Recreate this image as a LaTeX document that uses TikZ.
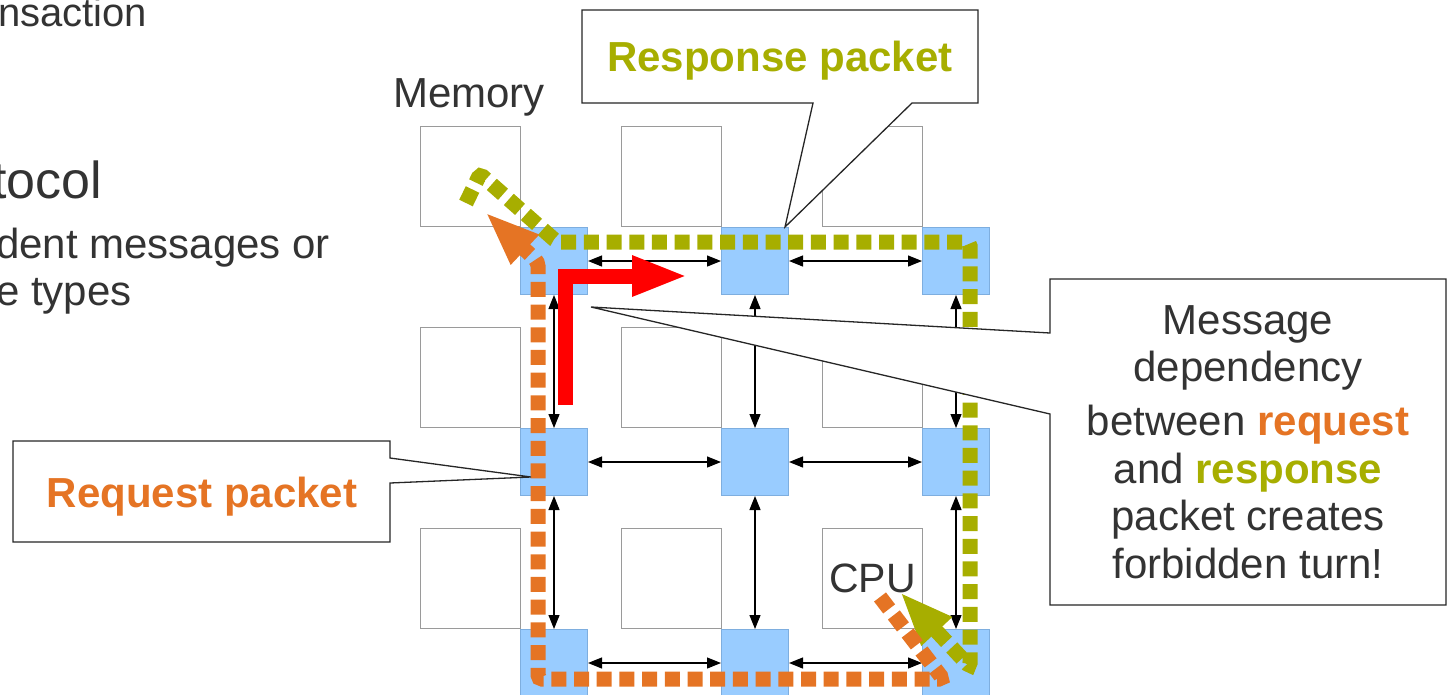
\documentclass[tikz,border=0pt]{standalone}
\usepackage{fontspec}
\setmainfont{Liberation Sans}
\usetikzlibrary{arrows.meta}

\definecolor{txt}{HTML}{333333}
\definecolor{reqc}{HTML}{E57424}
\definecolor{resc}{HTML}{A7AE00}
\definecolor{routerfill}{HTML}{99CCFF}
\definecolor{routerline}{HTML}{7EAEDF}
\definecolor{termline}{HTML}{9A9A9A}

\begin{document}
\begin{tikzpicture}[x=1pt,y=-1pt,
  terminal/.style={draw=termline, line width=1.3pt, fill=white,
    minimum size=100pt, inner sep=0pt, anchor=north west},
  router/.style={draw=routerline, line width=1pt, fill=routerfill,
    minimum size=67pt, inner sep=0pt, anchor=north west},
  link/.style={{Triangle[length=14pt,width=11pt]}-{Triangle[length=14pt,width=11pt]},
    line width=1.2pt, black},
  lbl/.style={inner sep=0pt, text=txt, font=\fontsize{42}{50}\selectfont},
  bullet/.style={inner sep=0pt, text=txt, anchor=base west, font=\fontsize{42}{50}\selectfont},
  calloutline/.style={draw=black!85, line width=1.3pt, fill=white},
  dotpath/.style={line width=15pt, dash pattern=on 15pt off 7.7pt, rounded corners=4pt},
  reqtext/.style={text=reqc, font=\fontsize{42}{50}\selectfont\bfseries},
  restext/.style={text=resc, font=\fontsize{42}{50}\selectfont\bfseries}]

\useasboundingbox (0,0) rectangle (1447,694);

% slide text cut at the left edge
\node[bullet, font=\fontsize{40}{48}\selectfont] (tline) at (-2,26) {nsaction};
\node[bullet, font=\fontsize{52}{60}\selectfont] (pline) at (-8,198) {tocol};
\node[bullet] (dline) at (-4,258) {dent messages or};
\node[bullet] (eline) at (-4,305) {e types};

% 3x3 mesh: terminals and routers
\foreach \r in {1,2,3} {
  \foreach \c in {1,2,3} {
    \node[terminal] (t\r\c) at ({420+201*(\c-1)},{126+201*(\r-1)}) {};
    \node[router]   (r\r\c) at ({520+201*(\c-1)},{227+201*(\r-1)}) {};
  }
}

% bidirectional links
\foreach \r in {1,2,3} {
  \draw[link] (r\r1) -- (r\r2);
  \draw[link] (r\r2) -- (r\r3);
}
\foreach \c in {1,2,3} {
  \draw[link] (r1\c) -- (r2\c);
  \draw[link] (r2\c) -- (r3\c);
}

% endpoint labels
\node[lbl, anchor=base] (memlabel) at (469,107) {Memory};
\node[lbl, font=\fontsize{41}{48}\selectfont] (cpulabel) at (t33.center) {CPU};

% response path: memory -> CPU
\draw[dotpath, resc, -{Triangle[length=54pt,width=38pt]}]
  (466,203) -- (480,174) -- (557,242) -- (970,242) -- (970,667) -- (900,592);

% request path: CPU -> memory
\draw[dotpath, reqc, -{Triangle[length=55pt,width=37pt]}]
  (880,597) -- (943,679) -- (538,679) -- (538,262) -- (485,212);

% forbidden turn
\draw[red, line width=15pt, -{Triangle[length=56pt,width=37pt]}]
  (565,405) -- (565,276) -- (688,276);

% callouts
\coordinate (resptip) at (785,227);
\coordinate (reqtip) at (531,477);
\coordinate (msgtip) at (591,307);

\draw[calloutline] (582,10) -- (978,10) -- (978,103) -- (912,103) -- (resptip)
  -- (813,103) -- (582,103) -- cycle;
\node[inner sep=0pt, restext, anchor=base] (resplabel) at (780,71) {Response packet};

\draw[calloutline] (13,441) -- (390,441) -- (390,458) -- (reqtip) -- (390,483)
  -- (390,542) -- (13,542) -- cycle;
\node[inner sep=0pt, reqtext, anchor=base] (reqlabel) at (202,507) {Request packet};

\draw[calloutline] (1050,279) -- (1446,279) -- (1446,605) -- (1050,605)
  -- (1050,414) -- (msgtip) -- (1050,333) -- cycle;
\node[lbl, anchor=base] (m1) at (1248,334) {Message};
\node[lbl, anchor=base] (m2) at (1248,381) {dependency};
\node[lbl, anchor=base] (m3) at (1248,435) {between \textcolor{reqc}{\bfseries request}};
\node[lbl, anchor=base] (m4) at (1248,483) {and \textcolor{resc}{\bfseries response}};
\node[lbl, anchor=base] (m5) at (1248,530) {packet creates};
\node[lbl, anchor=base] (m6) at (1248,578) {forbidden turn!};

\end{tikzpicture}
\end{document}
